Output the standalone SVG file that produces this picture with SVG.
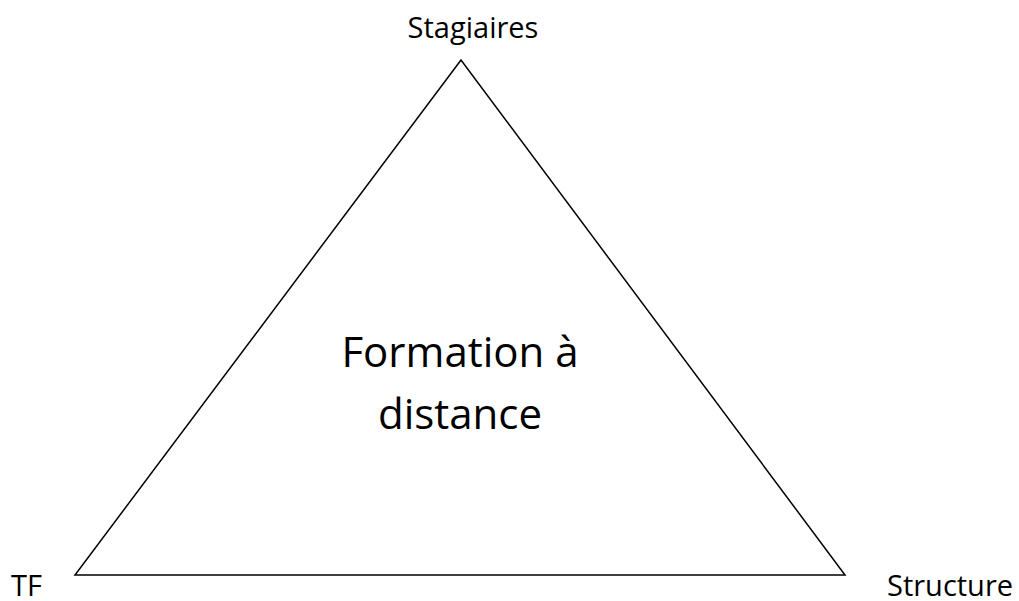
<svg xmlns="http://www.w3.org/2000/svg" width="1019" height="601" viewBox="0 0 1019 601">
<style>
.lbl{font-family:"Open Sans","Noto Sans",sans-serif;font-size:29px;fill:#000}
.big{font-family:"Open Sans","Noto Sans",sans-serif;font-size:42px;fill:#000}
</style>
<rect width="1019" height="601" fill="#fff"/>
<g id="triangle">
<polygon points="461,60 75,575 845,575" fill="none" stroke="#000" stroke-width="1.5"/>
<text class="big" x="460" y="367" text-anchor="middle">Formation à</text>
<text class="big" x="460" y="429" text-anchor="middle">distance</text>
</g>
<g id="node-stagiaires"><text class="lbl" x="473" y="38" text-anchor="middle">Stagiaires</text></g>
<g id="node-tf"><text class="lbl" x="11" y="596">TF</text></g>
<g id="node-structure"><text class="lbl" x="887" y="596">Structure</text></g>
<g id="connectors"></g>
</svg>
